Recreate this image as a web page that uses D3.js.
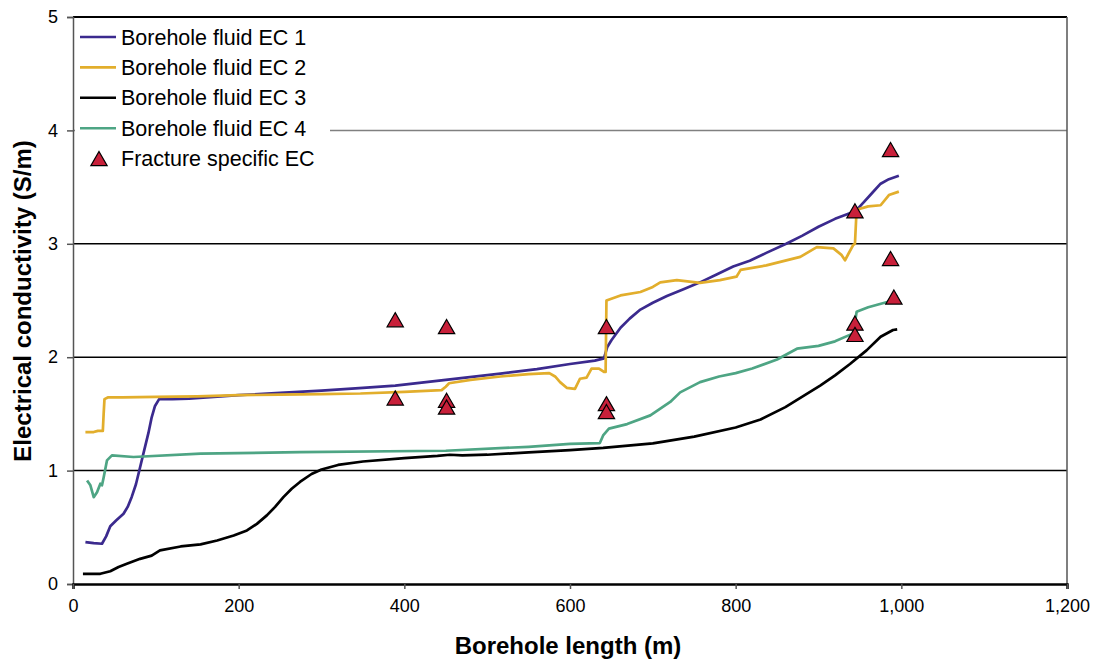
<!DOCTYPE html>
<html lang="en">
  <head>
    <meta charset="UTF-8" />
    <title>Borehole fluid EC</title>
    <script src="https://d3js.org/d3.v7.min.js"></script>
    <style>
      body {
        margin: 0;
        background: #fff;
        font-family: "Liberation Sans", Arial, sans-serif;
      }
      .tick text {
        font-size: 18px;
        fill: #000;
      }
      .series {
        fill: none;
        stroke-width: 2.7px;
        stroke-linejoin: round;
      }
      .legend text {
        font-size: 21.5px;
      }
      .title {
        font-size: 24px;
        font-weight: bold;
      }
    </style>
  </head>
  <body>
    <svg id="chart" width="1097" height="661"></svg>

    <script>
      // data ([borehole length m, EC S/m])
      const ec1 = [
        [15, 0.37], [25, 0.36], [35, 0.355], [40, 0.42], [45, 0.51], [52, 0.56],
        [61, 0.62], [66, 0.68], [71, 0.77], [76, 0.88], [81, 1.03], [86, 1.18],
        [91, 1.33], [95, 1.47], [99, 1.57], [104, 1.63], [120, 1.63], [140, 1.635],
        [170, 1.65], [200, 1.665], [250, 1.685], [300, 1.705], [350, 1.73],
        [389, 1.75], [450, 1.8], [516, 1.855], [560, 1.895], [600, 1.94],
        [630, 1.97], [641, 1.99], [645, 2.09], [650, 2.15], [661, 2.26],
        [672, 2.34], [685, 2.42], [700, 2.48], [717, 2.54], [737, 2.6],
        [757, 2.66], [777, 2.73], [797, 2.8], [817, 2.85], [837, 2.92],
        [861, 3.0], [880, 3.07], [900, 3.15], [920, 3.22], [945, 3.29],
        [955, 3.37], [965, 3.45], [975, 3.53], [985, 3.57], [997, 3.6]
      ];
      const ec2 = [
        [15, 1.34], [25, 1.34], [30, 1.35], [36, 1.35], [37, 1.5], [38, 1.63],
        [42, 1.645], [60, 1.645], [100, 1.65], [150, 1.655], [200, 1.665],
        [250, 1.67], [300, 1.675], [347, 1.68], [400, 1.695], [445, 1.71],
        [450, 1.74], [454, 1.77], [480, 1.8], [516, 1.83], [550, 1.85],
        [575, 1.86], [582, 1.83], [588, 1.78], [596, 1.73], [606, 1.72],
        [612, 1.81], [620, 1.82], [626, 1.9], [635, 1.9], [641, 1.87],
        [643, 1.87], [644, 2.5], [661, 2.545], [685, 2.575], [700, 2.62],
        [709, 2.66], [729, 2.68], [757, 2.655], [781, 2.68], [801, 2.71],
        [806, 2.77], [837, 2.81], [878, 2.885], [898, 2.97], [918, 2.96],
        [928, 2.9], [932, 2.855], [936, 2.91], [942, 2.99], [944, 3.0],
        [946, 3.3], [960, 3.33], [975, 3.34], [985, 3.43], [997, 3.46]
      ];
      const ec3 = [
        [12, 0.09], [33, 0.09], [45, 0.113], [55, 0.15], [65, 0.178], [81, 0.222],
        [95, 0.25], [105, 0.296], [130, 0.331], [154, 0.349], [174, 0.384],
        [194, 0.428], [210, 0.472], [222, 0.53], [234, 0.605], [244, 0.68],
        [254, 0.766], [264, 0.84], [274, 0.9], [288, 0.97], [300, 1.01],
        [320, 1.05], [350, 1.08], [400, 1.11], [440, 1.13], [455, 1.14],
        [470, 1.135], [500, 1.14], [550, 1.16], [600, 1.18], [640, 1.2],
        [700, 1.24], [750, 1.3], [800, 1.38], [830, 1.45], [860, 1.56],
        [880, 1.65], [902, 1.75], [920, 1.84], [938, 1.94], [958, 2.06],
        [975, 2.18], [990, 2.24], [995, 2.245]
      ];
      const ec4 = [
        [17, 0.913], [21, 0.87], [25, 0.766], [29, 0.81], [33, 0.884], [35, 0.87],
        [37, 0.94], [41, 1.09], [47, 1.134], [73, 1.12], [154, 1.149],
        [274, 1.163], [450, 1.175], [550, 1.21], [600, 1.235], [636, 1.243],
        [640, 1.31], [647, 1.37], [669, 1.41], [697, 1.487], [721, 1.605],
        [733, 1.69], [757, 1.78], [780, 1.83], [800, 1.86], [820, 1.9],
        [850, 1.98], [874, 2.075], [900, 2.1], [920, 2.14], [942, 2.21],
        [946, 2.4], [960, 2.44], [983, 2.487], [995, 2.55]
      ];
      const fracX = [389, 389, 451, 451, 451, 644, 644, 644, 944, 944, 944, 987, 987, 991];
      const fracY = [2.33, 1.64, 2.27, 1.62, 1.56, 2.27, 1.59, 1.52, 3.29, 2.3, 2.2, 3.83, 2.87, 2.53];

      const seriesNames = ["Borehole fluid EC 1", "Borehole fluid EC 2", "Borehole fluid EC 3", "Borehole fluid EC 4"];
      const seriesColors = ["#3b2a8e", "#e2ae2c", "#000000", "#4ea584"];
      const xTicks = [0, 200, 400, 600, 800, 1000, 1200];
      const yTicks = [0, 1, 2, 3, 4, 5];

      const svg = d3.select("#chart");
      const margin = { top: 17, right: 30, bottom: 77, left: 73 };
      const width = 1097 - margin.left - margin.right;
      const height = 661 - margin.top - margin.bottom;

      const x = d3.scaleLinear().domain([0, 1200]).range([0, width]);
      const y = d3.scaleLinear().domain([0, 5]).range([height, 0]);

      const g = svg.append("g").attr("transform", `translate(${margin.left},${margin.top})`);

      // gridlines
      g.selectAll(".grid")
        .data(yTicks.filter((d) => d > 0))
        .join("line")
        .attr("x1", 0)
        .attr("x2", width)
        .attr("y1", (d) => y(d))
        .attr("y2", (d) => y(d))
        .attr("stroke", (d) => (d === 4 ? "#808080" : "#000"))
        .attr("stroke-width", (d) => (d === 5 ? 2 : 1.5));

      // right frame
      g.append("line")
        .attr("x1", width).attr("x2", width)
        .attr("y1", 0).attr("y2", height)
        .attr("stroke", "#555").attr("stroke-width", 1.5);

      // axes
      const yAxis = g.append("g").call(d3.axisLeft(y).tickValues(yTicks).tickSize(6).tickPadding(9).tickFormat(d3.format("d")));
      yAxis.select(".domain").attr("stroke", "#555").attr("stroke-width", 1.5);
      yAxis.selectAll(".tick line").attr("stroke", "#555").attr("stroke-width", 1.5);

      const xAxis = g.append("g")
        .attr("transform", `translate(0,${height})`)
        .call(d3.axisBottom(x).tickValues(xTicks).tickSize(5).tickPadding(10).tickFormat(d3.format(",")));
      xAxis.select(".domain").attr("stroke", "#000").attr("stroke-width", 2.5);
      xAxis.selectAll(".tick line").attr("stroke", "#555").attr("stroke-width", 1.5);
      g.selectAll(".tick text").attr("font-family", "Liberation Sans, Arial, sans-serif");

      // series lines
      const line = d3.line().x((d) => x(d[0])).y((d) => y(d[1]));
      const allSeries = [ec1, ec2, ec3, ec4];
      g.selectAll(".series")
        .data(allSeries)
        .join("path")
        .attr("class", "series")
        .attr("stroke", (d, i) => seriesColors[i])
        .attr("d", line);

      // fracture markers
      const tri = d3.symbol().type(d3.symbolTriangle).size(115);
      g.selectAll(".frac")
        .data(fracX.map((v, i) => [v, fracY[i]]))
        .join("path")
        .attr("class", "frac")
        .attr("d", tri)
        .attr("transform", (d) => `translate(${x(d[0])},${y(d[1]) + 2.3})`)
        .attr("fill", "#c8203a")
        .attr("stroke", "#000")
        .attr("stroke-width", 1.2);

      // legend
      const legend = svg.append("g").attr("class", "legend");
      legend.append("rect")
        .attr("x", margin.left + 2).attr("y", margin.top + 4)
        .attr("width", 255).attr("height", 158)
        .attr("fill", "#fff");
      const rowY = (i) => 37 + i * 30.4;
      seriesNames.forEach((name, i) => {
        legend.append("line")
          .attr("x1", 80).attr("x2", 116)
          .attr("y1", rowY(i)).attr("y2", rowY(i))
          .attr("stroke", seriesColors[i]).attr("stroke-width", 2.6);
        legend.append("text")
          .attr("x", 121).attr("y", rowY(i) + 7.5)
          .text(name);
      });
      legend.append("path")
        .attr("d", tri)
        .attr("transform", `translate(99,${rowY(4) + 2.3})`)
        .attr("fill", "#c8203a").attr("stroke", "#000").attr("stroke-width", 1.2);
      legend.append("text")
        .attr("x", 121).attr("y", rowY(4) + 7.5)
        .text("Fracture specific EC");

      // axis titles
      svg.append("text")
        .attr("class", "title")
        .attr("x", margin.left + x(600) - 2)
        .attr("y", 654)
        .attr("text-anchor", "middle")
        .text("Borehole length (m)");
      svg.append("text")
        .attr("class", "title")
        .attr("transform", `translate(31,${301}) rotate(-90)`)
        .attr("text-anchor", "middle")
        .text("Electrical conductivity (S/m)");
    </script>
  </body>
</html>
